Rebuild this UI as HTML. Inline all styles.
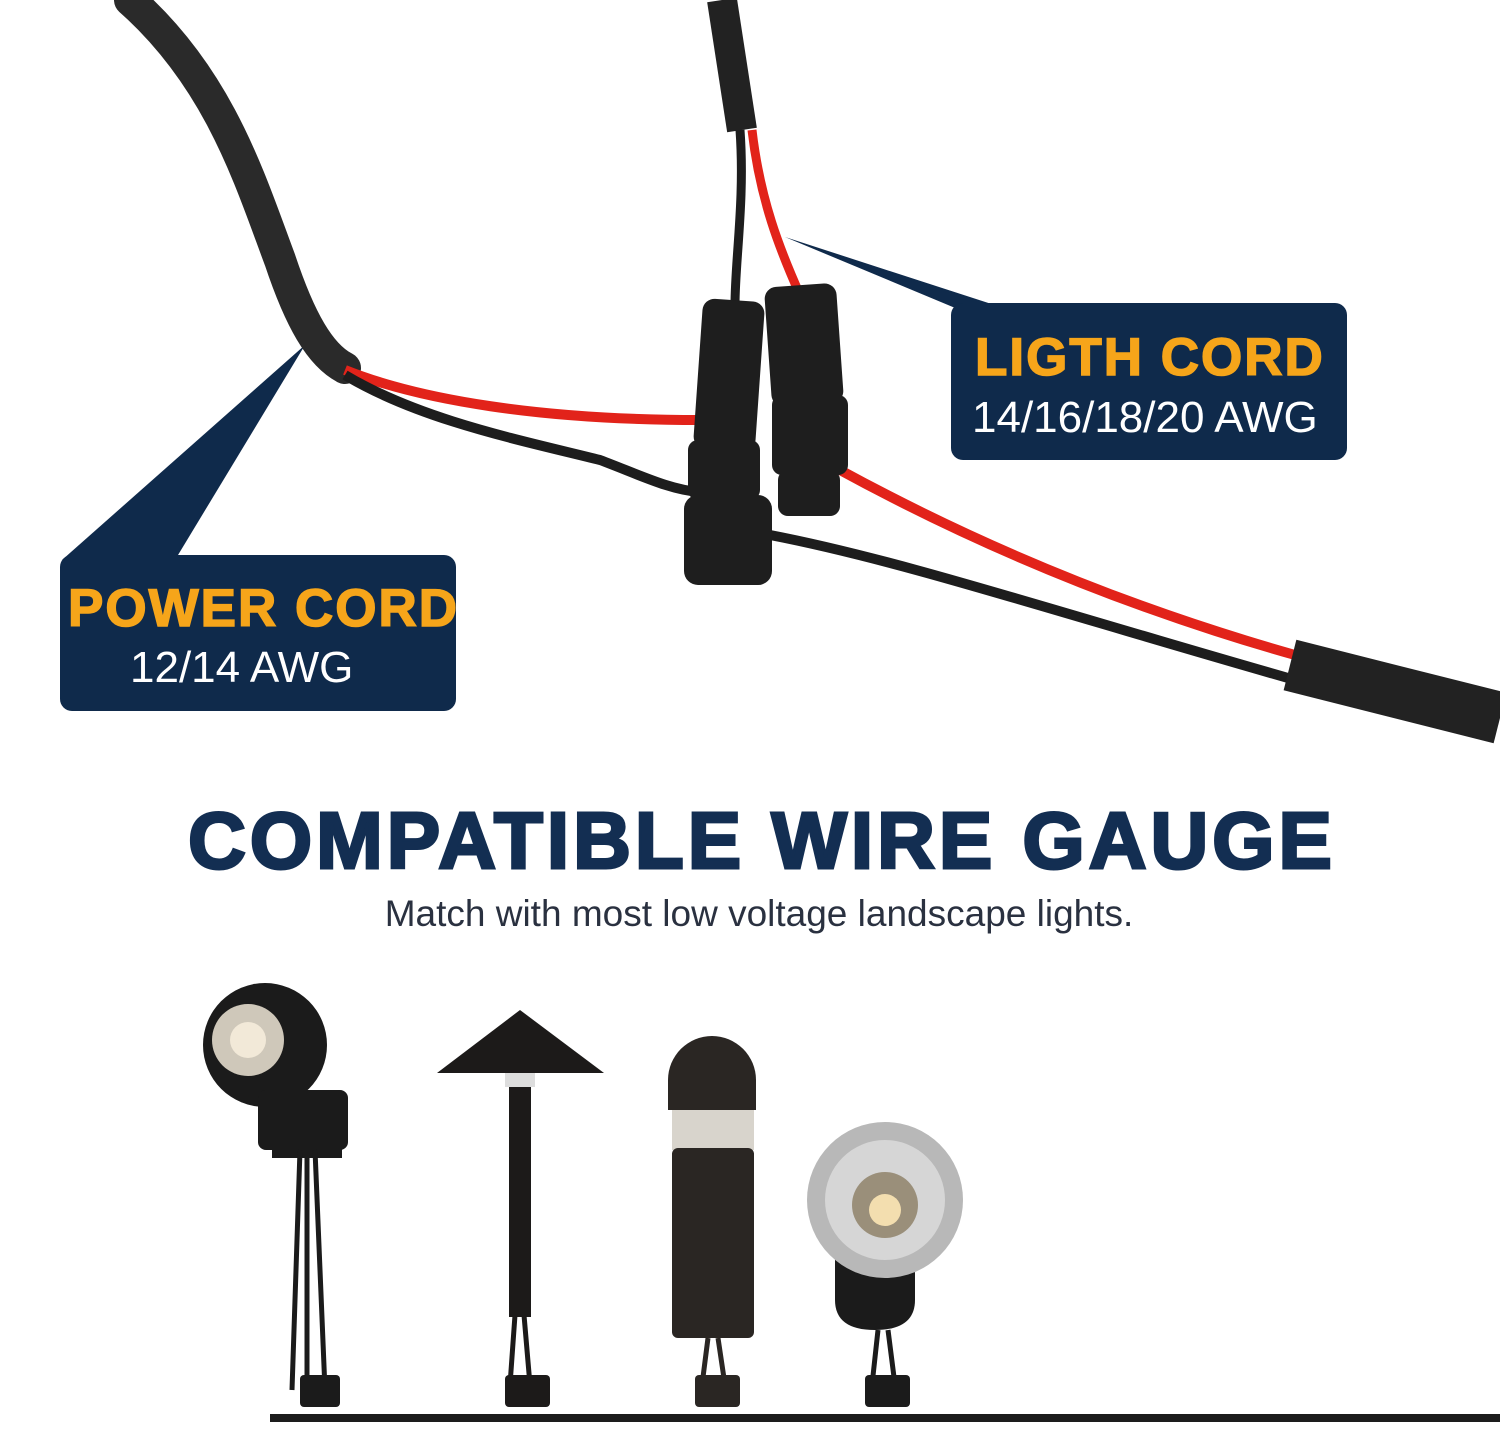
<!DOCTYPE html>
<html><head><meta charset="utf-8"><style>
html,body{margin:0;padding:0;background:#fff;}
.wrap{position:relative;width:1500px;height:1445px;overflow:hidden;font-family:"Liberation Sans",sans-serif;}
svg{position:absolute;left:0;top:0;}
.box{position:absolute;background:#0f2a4b;border-radius:12px;color:#fff;}
.h{color:#f6a51a;font-weight:900;font-size:53px;letter-spacing:2px;-webkit-text-stroke:1.5px #f6a51a;white-space:nowrap;}
.s{font-size:44px;white-space:nowrap;}
.title{position:absolute;left:0;width:1524px;top:795px;text-align:center;font-size:80px;font-weight:900;color:#132e52;letter-spacing:4px;-webkit-text-stroke:3px #132e52;}
.sub{position:absolute;left:0;width:1518px;top:893px;text-align:center;font-size:37px;color:#2a3140;}
</style></head><body><div class="wrap">
<svg width="1500" height="1445" viewBox="0 0 1500 1445">
 <polygon points="785,237 960,310 1010,310" fill="#0f2a4b"/>
 <polygon points="305,345 62,560 175,560" fill="#0f2a4b"/>
 <path d="M130,0 C220,80 250,180 280,260 C300,320 320,355 345,368" stroke="#2a2a2a" stroke-width="32" fill="none" stroke-linecap="round"/>
 <path d="M345,370 C420,400 540,420 700,420" stroke="#e2231a" stroke-width="10" fill="none"/>
 <path d="M345,375 C420,420 520,440 600,460 C640,475 670,490 700,492" stroke="#1d1d1d" stroke-width="10" fill="none"/>
 <path d="M722,0 L742,130" stroke="#222" stroke-width="30" fill="none"/>
 <path d="M740,130 C745,200 735,260 735,305" stroke="#1d1d1d" stroke-width="9" fill="none"/>
 <path d="M752,130 C760,200 780,250 800,295" stroke="#e2231a" stroke-width="9" fill="none"/>
 <path d="M840,470 C950,530 1100,600 1295,655" stroke="#e2231a" stroke-width="10" fill="none"/>
 <path d="M770,535 C900,560 1050,610 1295,680" stroke="#1d1d1d" stroke-width="10" fill="none"/>
 <path d="M1290,665 L1500,718" stroke="#222" stroke-width="52" fill="none"/>
 <g fill="#1e1e1e">
  <rect x="698" y="300" width="62" height="150" rx="12" transform="rotate(4 729 375)"/>
  <rect x="688" y="440" width="72" height="60" rx="10"/>
  <rect x="684" y="495" width="88" height="90" rx="14"/>
  <rect x="768" y="285" width="72" height="120" rx="12" transform="rotate(-4 804 345)"/>
  <rect x="772" y="395" width="76" height="80" rx="10"/>
  <rect x="778" y="470" width="62" height="46" rx="10"/>
 </g>
 <path d="M270,1418 L1500,1418" stroke="#1d1d1d" stroke-width="8"/>
 <g fill="#1b1b1b">
  <circle cx="265" cy="1045" r="62"/>
  <circle cx="248" cy="1040" r="36" fill="#cfc8ba"/>
  <circle cx="248" cy="1040" r="18" fill="#f2e9d8"/>
  <rect x="258" y="1090" width="90" height="60" rx="8" fill="#1b1b1b"/>
  <rect x="272" y="1140" width="70" height="18"/>
  <path d="M300,1150 L292,1390 M307,1150 L307,1390 M315,1150 L325,1390" stroke="#1b1b1b" stroke-width="5"/>
  <rect x="300" y="1375" width="40" height="32" rx="4"/>
 </g>
 <g fill="#1c1a19">
  <polygon points="520,1010 437,1073 604,1073"/>
  <rect x="505" y="1073" width="30" height="14" fill="#ddd"/>
  <rect x="509" y="1087" width="22" height="230"/>
  <path d="M515,1315 L510,1385 M524,1315 L530,1385" stroke="#1c1a19" stroke-width="5"/>
  <rect x="505" y="1375" width="45" height="32" rx="4"/>
 </g>
 <g fill="#2a2623">
  <path d="M668,1080 A44,44 0 0 1 756,1080 L756,1110 L668,1110 Z"/>
  <rect x="672" y="1110" width="82" height="40" fill="#d8d4cc"/>
  <rect x="672" y="1148" width="82" height="190" rx="6"/>
  <path d="M708,1338 L702,1385 M718,1338 L725,1385" stroke="#2a2623" stroke-width="5"/>
  <rect x="695" y="1375" width="45" height="32" rx="4"/>
 </g>
 <g>
  <path d="M835,1225 L915,1225 L915,1300 Q915,1330 875,1330 Q835,1330 835,1300 Z" fill="#1b1b1b"/>
  <circle cx="885" cy="1200" r="78" fill="#b8b8b8"/>
  <circle cx="885" cy="1200" r="60" fill="#d6d6d6"/>
  <circle cx="885" cy="1205" r="33" fill="#9a8f7a"/>
  <circle cx="885" cy="1210" r="16" fill="#f3deaf"/>
  <path d="M878,1330 L872,1385 M888,1330 L895,1385" stroke="#1b1b1b" stroke-width="5"/>
  <rect x="865" y="1375" width="45" height="32" rx="4" fill="#1b1b1b"/>
 </g>
</svg>
<div class="box" style="left:951px;top:303px;width:396px;height:157px;">
 <div class="h" style="position:absolute;left:24px;top:24px;">LIGTH CORD</div>
 <div class="s" style="position:absolute;left:21px;top:90px;">14/16/18/20 AWG</div>
</div>
<div class="box" style="left:60px;top:555px;width:396px;height:156px;">
 <div class="h" style="position:absolute;left:8px;top:23px;">POWER CORD</div>
 <div class="s" style="position:absolute;left:70px;top:88px;">12/14 AWG</div>
</div>
<div class="title">COMPATIBLE WIRE GAUGE</div>
<div class="sub">Match with most low voltage landscape lights.</div>
</div></body></html>
